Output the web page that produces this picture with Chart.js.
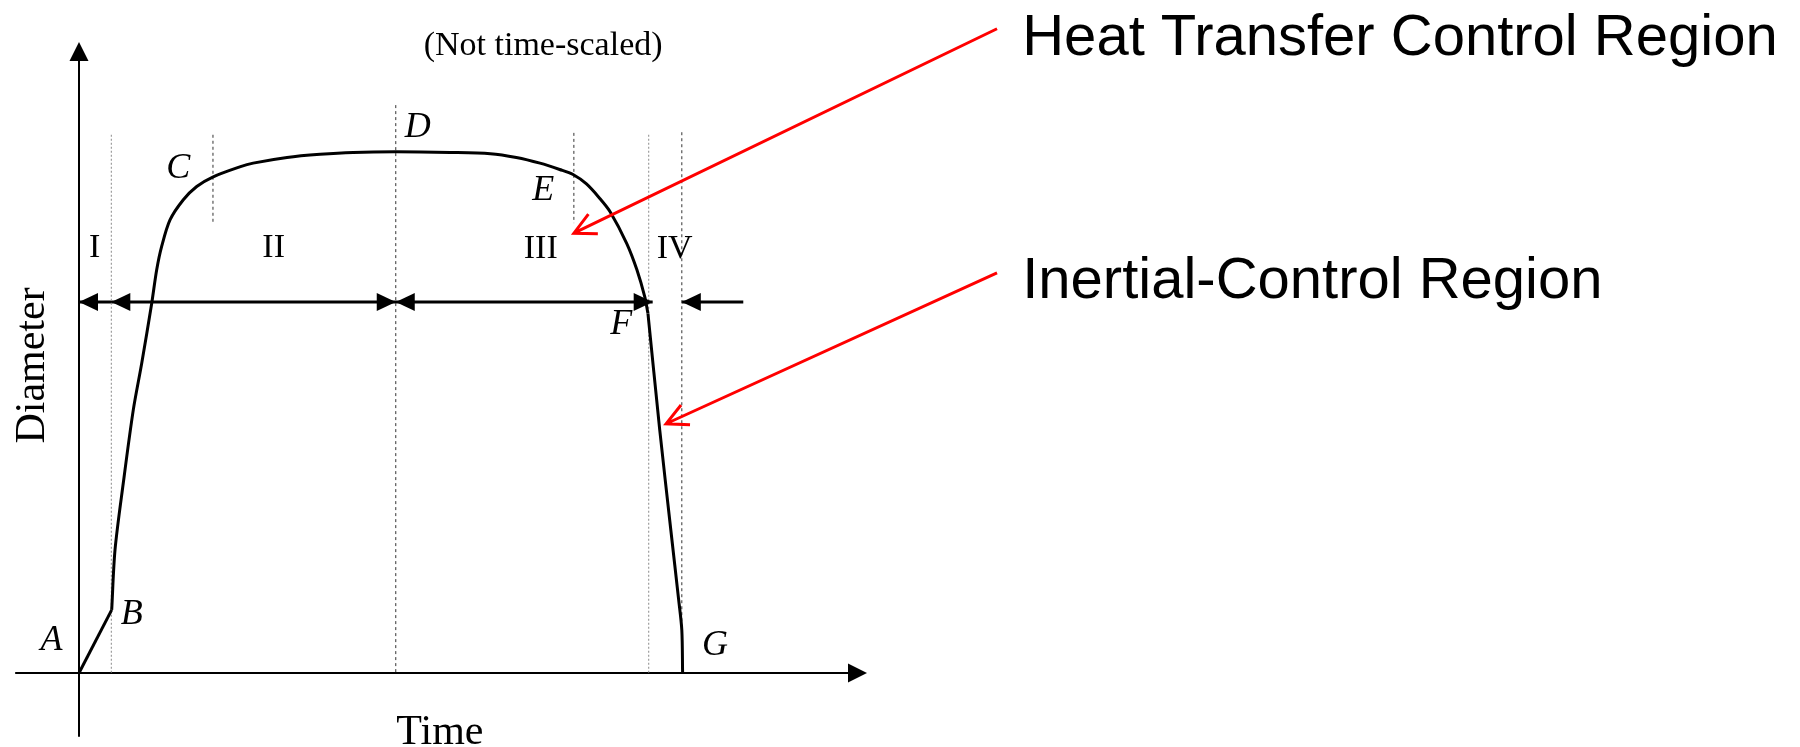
<!DOCTYPE html>
<html>
<head>
<meta charset="utf-8">
<title>Droplet diameter history</title>
<script src="https://cdn.jsdelivr.net/npm/chart.js@4"></script>
<style>
  html, body { margin: 0; padding: 0; background: #fff; }
  canvas { display: block; }
</style>
</head>
<body>
<canvas id="diameterChart" width="1800" height="747"></canvas>
<script>
// Diameter vs. time curve (arbitrary units, not time-scaled)
const curveTime = [0, 4.15, 4.57, 5.62, 6.89, 7.96, 9.23, 9.86, 10.49, 11.55, 13.24, 14.94, 16.97, 20.4, 22.1, 26.4, 30.6, 34.8, 40.2, 47.1, 52.2, 55.5, 58.5, 61.0, 62.7, 64.4, 66.1, 67.4, 69.5, 70.8, 71.8, 72.2, 73.7, 75.1, 76.1, 76.5, 76.6];
const curveDiameter = [0, 10.0, 19.5, 30.1, 41.7, 49.1, 58.6, 63.9, 67.6, 71.8, 75.0, 77.1, 78.6, 80.2, 80.8, 81.7, 82.2, 82.5, 82.6, 82.5, 82.3, 81.7, 80.8, 79.8, 79.0, 77.5, 75.2, 73.1, 68.1, 63.9, 59.6, 57.0, 38.5, 22.7, 11.6, 6.8, 0];
// indices where the curve has a sharp corner (B and F)
const cornerIndex = [1, 31];

// Region boundaries (vertical guides)
const boundaryTime = [4.1, 17.0, 40.2, 62.8, 72.3, 76.5];
const boundaryTop = [85.3, 85.3, 90.0, 85.6, 85.3, 85.7];
const boundaryBottom = [0, 71.2, 0, 71.3, 0, 0];
const boundaryGrey = [true, false, false, false, true, false];

// Region span arrows
const spanLevel = 58.8;
const spanSegments = [[0, 72.8], [76.5, 84.3]];
const spanArrowTime = [0, 4.1, 40.2, 40.2, 72.8, 76.5];
const spanArrowDir = [-1, -1, 1, -1, 1, -1];

// Point and region labels
const pointLabels = ['A', 'B', 'C', 'D', 'E', 'F', 'G'];
const pointLabelTime = [-3.5, 6.7, 12.6, 43.0, 58.9, 68.8, 80.7];
const pointLabelDiameter = [5.2, 9.2, 80.0, 86.4, 76.5, 55.2, 4.3];
const regionLabels = ['I', 'II', 'III', 'IV'];
const regionLabelTime = [2.0, 24.7, 58.6, 75.6];
const regionLabelDiameter = [67.4, 67.4, 67.2, 67.2];

const serif = '"Liberation Serif", "Times New Roman", serif';
const sans = '"Liberation Sans", Arial, sans-serif';

const points = curveTime.map((t, i) => ({ x: t, y: curveDiameter[i] }));
const pieces = [
    { from: 0, to: cornerIndex[0], tension: 0 },
    { from: cornerIndex[0], to: cornerIndex[1], tension: 0.3 },
    { from: cornerIndex[1], to: points.length - 1, tension: 0.3 }
];

const datasets = pieces.map(p => ({
    data: points.slice(p.from, p.to + 1),
    borderColor: '#000',
    borderWidth: 3,
    pointRadius: 0,
    tension: p.tension,
    borderJoinStyle: 'round',
    showLine: true,
    clip: false
}));

boundaryTime.forEach((t, i) => {
    datasets.push({
        data: [{ x: t, y: boundaryTop[i] }, { x: t, y: boundaryBottom[i] }],
        borderColor: boundaryGrey[i] ? '#8a8a8a' : '#333',
        borderWidth: 1,
        borderDash: boundaryGrey[i] ? [2, 2] : [3, 3],
        pointRadius: 0,
        showLine: true,
        clip: false
    });
});

spanSegments.forEach(seg => {
    datasets.push({
        data: [{ x: seg[0], y: spanLevel }, { x: seg[1], y: spanLevel }],
        borderColor: '#000',
        borderWidth: 3,
        pointRadius: 0,
        showLine: true,
        clip: false
    });
});

function filledHead(ctx, x, y, angle, len, half) {
    ctx.save();
    ctx.translate(x, y);
    ctx.rotate(angle);
    ctx.beginPath();
    ctx.moveTo(0, 0);
    ctx.lineTo(-len, -half);
    ctx.lineTo(-len, half);
    ctx.closePath();
    ctx.fill();
    ctx.restore();
}

function openArrow(ctx, x0, y0, x1, y1) {
    const a = Math.atan2(y0 - y1, x0 - x1);
    const barb = 24, spread = 0.47;
    ctx.beginPath();
    ctx.moveTo(x0, y0);
    ctx.lineTo(x1, y1);
    ctx.moveTo(x1 + barb * Math.cos(a - spread), y1 + barb * Math.sin(a - spread));
    ctx.lineTo(x1, y1);
    ctx.lineTo(x1 + barb * Math.cos(a + spread), y1 + barb * Math.sin(a + spread));
    ctx.stroke();
}

const sketchPlugin = {
    id: 'sketch',
    beforeDatasetsDraw(chart) {
        const ctx = chart.ctx;
        const xs = chart.scales.x, ys = chart.scales.y;
        const px = v => xs.getPixelForValue(v);
        const py = v => ys.getPixelForValue(v);
        ctx.save();
        ctx.strokeStyle = '#000';
        ctx.fillStyle = '#000';
        ctx.lineWidth = 2;
        // axes with arrow heads
        ctx.beginPath();
        ctx.moveTo(px(0), py(-10.1));
        ctx.lineTo(px(0), py(100) + 15);
        ctx.moveTo(px(-8.1), py(0));
        ctx.lineTo(px(100) - 15, py(0));
        ctx.stroke();
        filledHead(ctx, px(0), py(100), -Math.PI / 2, 19, 9.5);
        filledHead(ctx, px(100), py(0), 0, 19, 9.5);
        ctx.restore();
    },
    afterDatasetsDraw(chart) {
        const ctx = chart.ctx;
        const xs = chart.scales.x, ys = chart.scales.y;
        const px = v => xs.getPixelForValue(v);
        const py = v => ys.getPixelForValue(v);
        ctx.save();
        ctx.fillStyle = '#000';

        spanArrowTime.forEach((t, i) => {
            filledHead(ctx, px(t), py(spanLevel), spanArrowDir[i] > 0 ? 0 : Math.PI, 19, 9);
        });

        ctx.textAlign = 'center';
        ctx.textBaseline = 'middle';
        ctx.font = 'italic 36px ' + serif;
        pointLabels.forEach((s, i) => {
            ctx.fillText(s, px(pointLabelTime[i]), py(pointLabelDiameter[i]));
        });
        ctx.font = '34px ' + serif;
        regionLabels.forEach((s, i) => {
            ctx.fillText(s, px(regionLabelTime[i]), py(regionLabelDiameter[i]));
        });

        ctx.textBaseline = 'alphabetic';
        ctx.font = '34px ' + serif;
        ctx.fillText('(Not time-scaled)', px(58.9), py(97.9));

        ctx.font = '42px ' + serif;
        ctx.fillText('Time', px(45.8), py(-11.3));
        ctx.save();
        ctx.translate(44, (py(0) + py(100)) / 2 + 8);
        ctx.rotate(-Math.PI / 2);
        ctx.fillText('Diameter', 0, 0);
        ctx.restore();

        // callouts
        ctx.strokeStyle = '#ff0000';
        ctx.lineWidth = 3;
        openArrow(ctx, px(116.5), py(102.1), px(62.8), py(69.7));
        openArrow(ctx, px(116.5), py(63.4), px(74.5), py(39.5));

        ctx.textAlign = 'left';
        ctx.font = '58px ' + sans;
        ctx.fillText('Heat Transfer Control Region', px(119.7), py(97.9));
        ctx.fillText('Inertial-Control Region', px(119.7), py(59.4));
        ctx.restore();
    }
};

new Chart(document.getElementById('diameterChart'), {
    type: 'scatter',
    data: { datasets: datasets },
    options: {
        responsive: false,
        devicePixelRatio: 1,
        animation: false,
        layout: { padding: { left: 79, right: 933, top: 42, bottom: 74 } },
        plugins: {
            legend: { display: false },
            tooltip: { enabled: false }
        },
        scales: {
            x: { type: 'linear', min: 0, max: 100, display: false },
            y: { type: 'linear', min: 0, max: 100, display: false }
        }
    },
    plugins: [sketchPlugin]
});
</script>
</body>
</html>
